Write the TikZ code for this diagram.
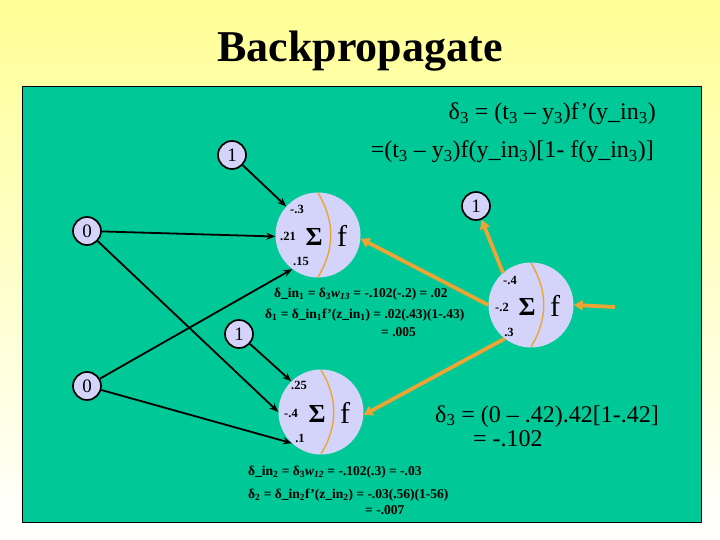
\documentclass[tikz,border=0pt]{standalone}
\usepackage{fontspec}
\setmainfont{Liberation Serif}
\usetikzlibrary{arrows.meta}
\definecolor{slide}{RGB}{255,255,150}
\definecolor{board}{RGB}{0,200,150}
\definecolor{lav}{RGB}{212,212,250}
\definecolor{amber}{RGB}{236,164,52}
\newcommand{\fs}[1]{\fontsize{#1}{#1}\selectfont}
\newcommand{\sub}[1]{\textsubscript{#1}}
\begin{document}
\begin{tikzpicture}[x=1pt,y=-1pt,line join=round,
  unit/.style={circle,draw,line width=1.7pt,fill=lav,inner sep=0pt,minimum size=28pt,font=\fs{19}},
  neuron/.style={circle,fill=lav,inner sep=0pt,minimum size=85pt},
  fwd/.style={-{Stealth[length=9pt,width=7pt]},line width=1.8pt},
  back/.style={-{Triangle[length=9pt,width=10pt]},amber,line width=3.8pt},
  wt/.style={font=\bfseries\fs{12.5},inner sep=0pt},
  eq/.style={font=\bfseries\fs{13.5},inner sep=0pt,anchor=base west},
  big/.style={font=\fs{24},inner sep=0pt}]
\shade[top color=slide,bottom color=white] (0,0) rectangle (720,540);
\useasboundingbox (0,0) rectangle (720,540);
\node[font=\bfseries\fs{44},anchor=base] (title) at (360,62) {Backpropagate};
\draw[fill=board,line width=1pt] (22,87) rectangle (701,522);
% neurons
\foreach \n/\x/\y in {h1/318/235, h2/321/412, out/531/305}{
  \node[neuron] (\n) at (\x,\y) {};
  \draw[amber,line width=1.4pt] (\x,\y-42) .. controls (\x+17,\y-14) and (\x+17,\y+14) .. (\x,\y+42);
  \node[font=\bfseries\fs{26},inner sep=0pt] (\n s) at (\x-4,\y+2) {Σ};
  \node[font=\fs{30},inner sep=0pt] (\n f) at (\x+24,\y+1) {f};
}
\node[unit] (b1) at (232,155) {1};
\node[unit] (x1) at (87,231) {0};
\node[unit] (b2) at (239,334) {1};
\node[unit] (x2) at (87,386) {0};
\node[unit] (b3) at (476,206) {1};
% forward weights
\draw[fwd] (b1) -- (h1.138);
\draw[fwd] (x1) -- (h1.182);
\draw[fwd] (x1) -- (h2.west);
\draw[fwd] (x2) -- (h1.233);
\draw[fwd] (x2) -- (h2.227);
\draw[fwd] (b2) -- (h2.134);
% error going back
\coordinate (err) at (615,307);
\draw[back] (err) -- (out.east);
\draw[back] (out.west) -- (h1.-5);
\draw[back] (out.232) -- (h2.-4);
\draw[back] (out.131) -- (b3);
\path (297,209) node[wt] (w01) {-.3} (288,236) node[wt] (w11) {.21} (301,261) node[wt] (w21) {.15}
  (299,385) node[wt] (w02) {.25} (291,413) node[wt] (w12) {-.4} (300,438) node[wt] (w22) {.1}
  (510,280) node[wt] (w03) {-.4} (502,307) node[wt] (w13) {-.2} (509,332) node[wt] (w23) {.3};
\node[big,anchor=base east] (d3a) at (656,120) {δ\sub{3} = (t\sub{3} – y\sub{3})f’(y\_in\sub{3})};
\node[big,anchor=base east] (d3b) at (654,158) {=(t\sub{3} – y\sub{3})f(y\_in\sub{3})[1- f(y\_in\sub{3})]};
\node[big,anchor=base west] (d3c) at (435,422) {δ\sub{3} = (0 – .42).42[1-.42]};
\node[big,anchor=base west] (d3d) at (473,446) {= -.102};
\node[eq] (din1) at (274,297) {δ\_in\sub{1} = δ\sub{3}\textit{w}\sub{\textit{13}} = -.102(-.2) = .02};
\node[eq] (d1) at (265,318) {δ\sub{1} = δ\_in\sub{1}f’(z\_in\sub{1}) = .02(.43)(1-.43)};
\node[eq] (d1v) at (381,336) {= .005};
\node[eq] (din2) at (248,475) {δ\_in\sub{2} = δ\sub{3}\textit{w}\sub{\textit{12}} = -.102(.3) = -.03};
\node[eq] (d2) at (248,498) {δ\sub{2} = δ\_in\sub{2}f’(z\_in\sub{2}) = -.03(.56)(1-56)};
\node[eq] (d2v) at (365,514) {= -.007};
\end{tikzpicture}
\end{document}
